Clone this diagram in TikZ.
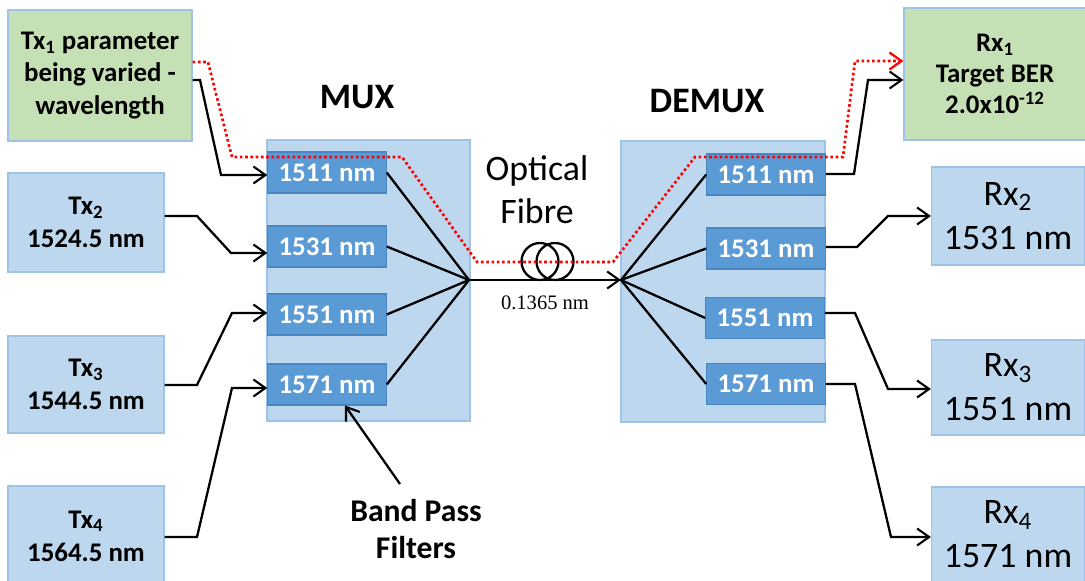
\documentclass[tikz,border=0pt]{standalone}
\usepackage{fontspec}
\setmainfont{Carlito}
\newfontfamily\timesf{Liberation Serif}
\usetikzlibrary{arrows.meta}
\definecolor{boxfill}{HTML}{BDD7EE}
\definecolor{boxline}{HTML}{9DC3E6}
\definecolor{filtfill}{HTML}{5B9BD5}
\definecolor{filtline}{HTML}{4A86C0}
\definecolor{greenfill}{HTML}{C5E0B4}
\begin{document}
\begin{tikzpicture}[x=0.02cm,y=-0.02cm,
 bx/.style={draw=boxline, fill=boxfill, line width=0.7pt, inner sep=0pt, align=center},
 gbx/.style={bx, fill=greenfill},
 boldtxt/.style={font=\fontsize{15.3}{18.7}\selectfont\bfseries},
 bigtxt/.style={font=\fontsize{20.4}{25}\selectfont},
 filt/.style={draw=filtline, fill=filtfill, text=white, line width=0.6pt, inner sep=0pt, minimum width=2.37cm, minimum height=0.82cm, font=\fontsize{15.3}{18}\selectfont\bfseries},
 tip/.style={-{Straight Barb[length=2.4mm,width=3.4mm,line width=1.2pt]}},
 wire/.style={line width=1.3pt, line join=miter},
 conn/.style={wire, tip},
 redp/.style={red, line width=1.5pt, dash pattern=on 1.5pt off 1.5pt, -{Straight Barb[length=2.4mm,width=3.4mm,line width=1.3pt]}}]
\useasboundingbox (0,0) rectangle (1085,581);

% boxes
\node[bx, minimum width=4.06cm, minimum height=5.62cm] (mux) at (368.5,280.5) {};
\node[bx, minimum width=4.08cm, minimum height=5.62cm] (demux) at (723,281.5) {};

\node[gbx, boldtxt, minimum width=3.68cm, minimum height=2.62cm, font=\fontsize{15.3}{18.3}\selectfont\bfseries] (tx1) at (100,75.5)
 {Tx\textsubscript{1} parameter\\being varied -\\wavelength};
\node[bx, boldtxt, minimum width=3.12cm, minimum height=1.98cm] (tx2) at (86,222.5) {Tx\textsubscript{2}\\1524.5 nm};
\node[bx, boldtxt, minimum width=3.12cm, minimum height=1.94cm] (tx3) at (86,384.5) {Tx\textsubscript{3}\\1544.5 nm};
\node[bx, boldtxt, minimum width=3.12cm, minimum height=2.0cm] (tx4) at (86,536) {Tx\textsubscript{4}\\1564.5 nm};

\node[gbx, boldtxt, minimum width=3.64cm, minimum height=2.64cm, font=\fontsize{15.3}{17.6}\selectfont\bfseries] (rx1) at (995,74)
 {Rx\textsubscript{1}\\Target BER\\2.0x10\textsuperscript{-12}};
\node[bx, bigtxt, minimum width=3.06cm, minimum height=1.96cm] (rx2) at (1008,216) {Rx\textsubscript{2}\\1531 nm};
\node[bx, bigtxt, minimum width=3.06cm, minimum height=1.9cm] (rx3) at (1008,387.5) {Rx\textsubscript{3}\\1551 nm};
\node[bx, bigtxt, minimum width=3.06cm, minimum height=1.9cm] (rx4) at (1008,534.5) {Rx\textsubscript{4}\\1571 nm};

% filters
\node[filt] (mf1) at (327,172.5) {1511 nm};
\node[filt] (mf2) at (327,246.5) {1531 nm};
\node[filt] (mf3) at (327,314.5) {1551 nm};
\node[filt] (mf4) at (327,384.5) {1571 nm};
\node[filt] (df1) at (766,174.5) {1511 nm};
\node[filt] (df2) at (766,248.5) {1531 nm};
\node[filt] (df3) at (765,318) {1551 nm};
\node[filt] (df4) at (766,384) {1571 nm};

% labels
\node[font=\fontsize{20.4}{24}\selectfont\bfseries] (muxl) at (357,97) {MUX};
\node[font=\fontsize{20.4}{24}\selectfont\bfseries] (demuxl) at (707,101) {DEMUX};
\node[align=center, font=\fontsize{20.4}{24.5}\selectfont] (fibl) at (537,190) {Optical\\Fibre};
\node[font=\fontsize{11.7}{14}\selectfont\timesf] (len) at (545,303) {0.1365 nm};
\node[align=center, font=\fontsize{18}{21.5}\selectfont\bfseries] (bpf) at (416,529) {Band Pass\\Filters};

% fibre
\coordinate (mf) at (469,280);
\coordinate (df) at (621,280);
\draw[conn] (mf) -- (df);
\draw[wire] (540,261.5) circle [radius=0.37cm];
\draw[wire] (555,261.5) circle [radius=0.37cm];

% mux fan
\foreach \i in {1,...,4} {
  \draw[wire] (mf\i.east) -- (mf);
  \draw[wire] (df) -- (df\i.west);
}

% inputs
\draw[conn] (tx1.east |- 0,80) -- (200,80) -- (221,175) -- (mf1.west |- 0,175);
\draw[conn] (tx2.east |- 0,216) -- (197,216) -- (231,253) -- (mf2.west |- 0,253);
\draw[conn] (tx3.east |- 0,385) -- (197,385) -- (232,313) -- (mf3.west |- 0,313);
\draw[conn] (tx4.east |- 0,537) -- (197,537) -- (232,388) -- (mf4.west |- 0,388);

% outputs
\draw[conn] (df1.east |- 0,174) -- (854,174) -- (868,80) -- (rx1.west |- 0,80);
\draw[conn] (df2.east |- 0,247) -- (857,247) -- (888,216) -- (rx2.west |- 0,216);
\draw[conn] (df3.east |- 0,313) -- (855,313) -- (888,389) -- (rx3.west |- 0,389);
\draw[conn] (df4.east |- 0,384) -- (855,384) -- (891,537) -- (rx4.west |- 0,537);

% red dotted path
\draw[redp] (tx1.east |- 0,62) -- (208,62) -- (232,157) -- (402,157) -- (477,262) -- (613,262) -- (695,157) -- (843,157) -- (855,61) -- (rx1.west |- 0,61);

% band pass arrow
\draw[conn] (400,484) -- (mf4.south -| 345,0);
\end{tikzpicture}
\end{document}
